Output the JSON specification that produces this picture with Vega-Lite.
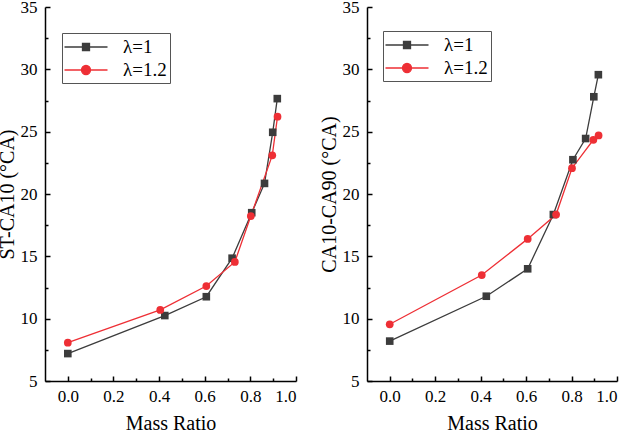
{
  "$schema": "https://vega.github.io/schema/vega-lite/v6.json",
  "padding": {"left": -3, "top": -2, "right": 8, "bottom": 0},
  "background": "white",
  "config": {
    "font": "Liberation Serif",
    "view": {"stroke": null},
    "concat": {"spacing": 22},
    "axis": {
      "grid": false,
      "domainColor": "#000",
      "domainWidth": 1.5,
      "tickColor": "#000",
      "tickWidth": 1.5,
      "labelColor": "#000",
      "titleColor": "#000",
      "labelFont": "Liberation Serif",
      "titleFont": "Liberation Serif",
      "labelFontSize": 17,
      "titleFontSize": 20,
      "titleFontWeight": "normal"
    },
    "legend": {
      "labelFont": "Liberation Serif",
      "labelFontSize": 19,
      "labelColor": "#000",
      "strokeColor": "#555",
      "padding": 3,
      "rowPadding": 2,
      "symbolSize": 400,
      "symbolOffset": 10,
      "labelOffset": 26,
      "symbolStrokeWidth": 1.3
    }
  },
  "datasets": {
    "st": [
      {"series": "λ=1", "ratio": 0, "value": 7.2},
      {"series": "λ=1", "ratio": 0.425, "value": 10.25},
      {"series": "λ=1", "ratio": 0.607, "value": 11.76},
      {"series": "λ=1", "ratio": 0.72, "value": 14.85},
      {"series": "λ=1", "ratio": 0.806, "value": 18.5},
      {"series": "λ=1", "ratio": 0.862, "value": 20.85},
      {"series": "λ=1", "ratio": 0.898, "value": 24.95},
      {"series": "λ=1", "ratio": 0.918, "value": 27.65},
      {"series": "λ=1.2", "ratio": 0, "value": 8.07},
      {"series": "λ=1.2", "ratio": 0.405, "value": 10.7},
      {"series": "λ=1.2", "ratio": 0.607, "value": 12.62},
      {"series": "λ=1.2", "ratio": 0.732, "value": 14.55},
      {"series": "λ=1.2", "ratio": 0.802, "value": 18.23},
      {"series": "λ=1.2", "ratio": 0.896, "value": 23.1},
      {"series": "λ=1.2", "ratio": 0.919, "value": 26.2}
    ],
    "dur": [
      {"series": "λ=1", "ratio": 0, "value": 8.2},
      {"series": "λ=1", "ratio": 0.425, "value": 11.8},
      {"series": "λ=1", "ratio": 0.607, "value": 14.0},
      {"series": "λ=1", "ratio": 0.72, "value": 18.35},
      {"series": "λ=1", "ratio": 0.806, "value": 22.75},
      {"series": "λ=1", "ratio": 0.862, "value": 24.45},
      {"series": "λ=1", "ratio": 0.898, "value": 27.8},
      {"series": "λ=1", "ratio": 0.918, "value": 29.57},
      {"series": "λ=1.2", "ratio": 0, "value": 9.55},
      {"series": "λ=1.2", "ratio": 0.405, "value": 13.5},
      {"series": "λ=1.2", "ratio": 0.607, "value": 16.4},
      {"series": "λ=1.2", "ratio": 0.732, "value": 18.35},
      {"series": "λ=1.2", "ratio": 0.802, "value": 22.07},
      {"series": "λ=1.2", "ratio": 0.896, "value": 24.35},
      {"series": "λ=1.2", "ratio": 0.919, "value": 24.7}
    ]
  },
  "resolve": {
    "scale": {"color": "independent", "shape": "independent"},
    "legend": {"color": "independent", "shape": "independent"}
  },
  "hconcat": [
    {
      "width": 251,
      "height": 374,
      "data": {"name": "st"},
      "layer": [
        {
          "mark": {"type": "line", "strokeWidth": 1.3},
          "encoding": {
            "x": {"field": "ratio", "type": "quantitative", "scale": {"domain": [-0.1, 1.0], "nice": false, "zero": false},
              "axis": {"orient": "bottom", "values": [0, 0.2, 0.4, 0.6, 0.8, 1.0], "format": ".1f", "tickSize": -5, "labelPadding": 12, "title": "Mass Ratio", "titlePadding": 9}},
            "y": {"field": "value", "type": "quantitative", "scale": {"domain": [5, 35], "nice": false, "zero": false},
              "axis": {"orient": "left", "values": [5, 10, 15, 20, 25, 30, 35], "tickSize": -5, "labelPadding": 13, "title": "ST-CA10 (°CA)", "titlePadding": 3}},
            "color": {"field": "series", "type": "nominal", "scale": {"domain": ["λ=1", "λ=1.2"], "range": ["#3c3c3c", "#ee2f35"]},
              "legend": {"title": null, "orient": "none", "legendX": 17, "legendY": 26,
                "encode": {"symbols": {"update": {"size": {"value": 400}, "opacity": {"value": 1}, "strokeWidth": {"value": 1.3}}}}}}
          }
        },
        {
          "transform": [{"filter": "datum.series === 'λ=1'"}],
          "mark": {"type": "point", "filled": true, "opacity": 1, "size": 58, "shape": "square", "color": "#3c3c3c"},
          "encoding": {
            "x": {"field": "ratio", "type": "quantitative", "scale": {"domain": [-0.1, 1.0], "nice": false, "zero": false},
              "axis": {"orient": "bottom", "values": [0.1, 0.3, 0.5, 0.7, 0.9], "labels": false, "domain": false, "tickSize": -3, "title": null}},
            "y": {"field": "value", "type": "quantitative", "scale": {"domain": [5, 35], "nice": false, "zero": false},
              "axis": {"orient": "left", "values": [7.5, 12.5, 17.5, 22.5, 27.5, 32.5], "labels": false, "domain": false, "tickSize": -3, "title": null}}
          }
        },
        {
          "transform": [{"filter": "datum.series === 'λ=1.2'"}],
          "mark": {"type": "point", "filled": true, "opacity": 1, "size": 60, "shape": "circle", "color": "#ee2f35"},
          "encoding": {
            "x": {"field": "ratio", "type": "quantitative", "axis": null},
            "y": {"field": "value", "type": "quantitative", "axis": null}
          }
        },
        {
          "mark": {"type": "point", "filled": true, "size": 0},
          "encoding": {
            "x": {"field": "ratio", "type": "quantitative", "axis": null},
            "y": {"field": "value", "type": "quantitative", "axis": null},
            "color": {"field": "series", "type": "nominal", "scale": {"domain": ["λ=1", "λ=1.2"], "range": ["#3c3c3c", "#ee2f35"]},
              "legend": {"title": null, "orient": "none", "legendX": 17, "legendY": 26,
                "encode": {"symbols": {"update": {"size": {"value": 400}, "opacity": {"value": 1}, "strokeWidth": {"value": 1.3}}}}}},
            "shape": {"field": "series", "type": "nominal", "scale": {"domain": ["λ=1", "λ=1.2"], "range": ["M-2.15,0H2.15M-0.35,-0.35H0.35V0.35H-0.35Z", "M-2.15,0H2.15M0.45,0A0.45,0.45 0 1,1 -0.45,0A0.45,0.45 0 1,1 0.45,0Z"]},
              "legend": {"title": null, "orient": "none", "legendX": 17, "legendY": 26}}
          }
        }
      ],
      "resolve": {"axis": {"x": "independent", "y": "independent"}}
    },
    {
      "width": 250,
      "height": 374,
      "data": {"name": "dur"},
      "layer": [
        {
          "mark": {"type": "line", "strokeWidth": 1.3},
          "encoding": {
            "x": {"field": "ratio", "type": "quantitative", "scale": {"domain": [-0.1, 1.0], "nice": false, "zero": false},
              "axis": {"orient": "bottom", "values": [0, 0.2, 0.4, 0.6, 0.8, 1.0], "format": ".1f", "tickSize": -5, "labelPadding": 12, "title": "Mass Ratio", "titlePadding": 9}},
            "y": {"field": "value", "type": "quantitative", "scale": {"domain": [5, 35], "nice": false, "zero": false},
              "axis": {"orient": "left", "values": [5, 10, 15, 20, 25, 30, 35], "tickSize": -5, "labelPadding": 13, "title": "CA10-CA90 (°CA)", "titlePadding": 3}},
            "color": {"field": "series", "type": "nominal", "scale": {"domain": ["λ=1", "λ=1.2"], "range": ["#3c3c3c", "#ee2f35"]},
              "legend": {"title": null, "orient": "none", "legendX": 16, "legendY": 24,
                "encode": {"symbols": {"update": {"size": {"value": 400}, "opacity": {"value": 1}, "strokeWidth": {"value": 1.3}}}}}}
          }
        },
        {
          "transform": [{"filter": "datum.series === 'λ=1'"}],
          "mark": {"type": "point", "filled": true, "opacity": 1, "size": 58, "shape": "square", "color": "#3c3c3c"},
          "encoding": {
            "x": {"field": "ratio", "type": "quantitative", "scale": {"domain": [-0.1, 1.0], "nice": false, "zero": false},
              "axis": {"orient": "bottom", "values": [0.1, 0.3, 0.5, 0.7, 0.9], "labels": false, "domain": false, "tickSize": -3, "title": null}},
            "y": {"field": "value", "type": "quantitative", "scale": {"domain": [5, 35], "nice": false, "zero": false},
              "axis": {"orient": "left", "values": [7.5, 12.5, 17.5, 22.5, 27.5, 32.5], "labels": false, "domain": false, "tickSize": -3, "title": null}}
          }
        },
        {
          "transform": [{"filter": "datum.series === 'λ=1.2'"}],
          "mark": {"type": "point", "filled": true, "opacity": 1, "size": 60, "shape": "circle", "color": "#ee2f35"},
          "encoding": {
            "x": {"field": "ratio", "type": "quantitative", "axis": null},
            "y": {"field": "value", "type": "quantitative", "axis": null}
          }
        },
        {
          "mark": {"type": "point", "filled": true, "size": 0},
          "encoding": {
            "x": {"field": "ratio", "type": "quantitative", "axis": null},
            "y": {"field": "value", "type": "quantitative", "axis": null},
            "color": {"field": "series", "type": "nominal", "scale": {"domain": ["λ=1", "λ=1.2"], "range": ["#3c3c3c", "#ee2f35"]},
              "legend": {"title": null, "orient": "none", "legendX": 16, "legendY": 24,
                "encode": {"symbols": {"update": {"size": {"value": 400}, "opacity": {"value": 1}, "strokeWidth": {"value": 1.3}}}}}},
            "shape": {"field": "series", "type": "nominal", "scale": {"domain": ["λ=1", "λ=1.2"], "range": ["M-2.15,0H2.15M-0.35,-0.35H0.35V0.35H-0.35Z", "M-2.15,0H2.15M0.45,0A0.45,0.45 0 1,1 -0.45,0A0.45,0.45 0 1,1 0.45,0Z"]},
              "legend": {"title": null, "orient": "none", "legendX": 16, "legendY": 24}}
          }
        }
      ],
      "resolve": {"axis": {"x": "independent", "y": "independent"}}
    }
  ]
}
